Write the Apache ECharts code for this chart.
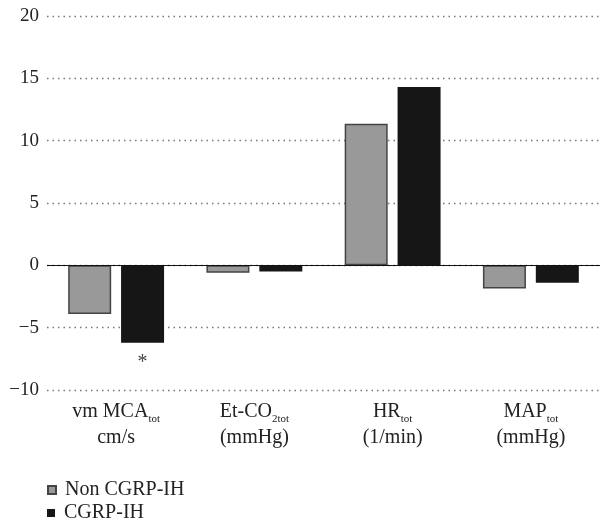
<!DOCTYPE html>
<html>
<head>
<meta charset="utf-8">
<script src="https://cdn.jsdelivr.net/npm/echarts@6/dist/echarts.min.js"></script>
<style>
  html, body { margin: 0; padding: 0; background: #fff; }
  #chart { width: 600px; height: 523px; }
</style>
</head>
<body>
<div id="chart"></div>
<script>
// Change in each measured variable (total), per group
const categories = [
  { main: 'vm MCA', sub: 'tot', unit: 'cm/s' },
  { main: 'Et-CO', sub: '2tot', unit: '(mmHg)' },
  { main: 'HR', sub: 'tot', unit: '(1/min)' },
  { main: 'MAP', sub: 'tot', unit: '(mmHg)' }
];
const seriesNames = ['Non CGRP-IH', 'CGRP-IH'];
const nonCgrpValues = [-3.9, -0.6, 11.35, -1.85];
const cgrpValues = [-6.2, -0.5, 14.3, -1.4];
// significance marks shown under the CGRP-IH bars
const cgrpMarks = ['*', '', '', ''];
const yTicks = { min: -10, max: 20, interval: 5 };

const serif = '"Liberation Serif", "DejaVu Serif", serif';
const chart = echarts.init(document.getElementById('chart'));

function legendFor(name, top) {
  return {
    orient: 'vertical',
    left: 42,
    top: top,
    itemWidth: 8,
    itemHeight: 8,
    itemGap: 0,
    icon: 'rect',
    textStyle: { fontFamily: serif, fontSize: 20, color: '#222', padding: [0, 0, 0, 4] },
    data: [name]
  };
}

chart.setOption({
  backgroundColor: '#fff',
  animation: false,
  textStyle: { fontFamily: serif },
  grid: { left: 47, right: -6, top: 16, bottom: 133 },
  legend: [legendFor(seriesNames[0], 475), legendFor(seriesNames[1], 498)],
  xAxis: {
    type: 'category',
    data: categories.map(c => c.main),
    axisLine: { show: false, onZero: false },
    axisTick: { show: false },
    axisLabel: {
      margin: 9,
      interval: 0,
      formatter: (v, i) => {
        const c = categories[i];
        return '{m|' + c.main + '}{s|' + c.sub + '}\n{m|' + c.unit + '}';
      },
      rich: {
        m: { fontFamily: serif, fontSize: 20, color: '#222', lineHeight: 26 },
        s: { fontFamily: serif, fontSize: 11, color: '#222', verticalAlign: 'bottom', lineHeight: 11 }
      }
    }
  },
  yAxis: {
    type: 'value',
    min: yTicks.min,
    max: yTicks.max,
    interval: yTicks.interval,
    axisLine: { show: false },
    axisTick: { show: false },
    axisLabel: {
      margin: 8,
      fontFamily: serif,
      fontSize: 19,
      color: '#222',
      formatter: v => String(v).replace('-', '\u2212')
    },
    splitLine: {
      show: true,
      lineStyle: { type: [1.5, 4], color: '#777', width: 1.3 }
    }
  },
  series: [
    {
      name: seriesNames[0],
      type: 'bar',
      data: nonCgrpValues,
      barWidth: 43,
      barGap: '23%',
      itemStyle: { color: '#999999', borderColor: '#444', borderWidth: 1.5 },
      markLine: {
        silent: true,
        symbol: 'none',
        label: { show: false },
        lineStyle: { type: 'solid', color: '#111', width: 1.2 },
        data: [{ yAxis: 0 }]
      },
      z: 3
    },
    {
      name: seriesNames[1],
      type: 'bar',
      data: cgrpValues,
      barWidth: 43,
      itemStyle: { color: '#161616' },
      label: {
        show: true,
        position: 'bottom',
        distance: 10,
        fontFamily: serif,
        fontSize: 20,
        color: '#444',
        formatter: p => cgrpMarks[p.dataIndex]
      },
      z: 3
    }
  ]
});
</script>
</body>
</html>
